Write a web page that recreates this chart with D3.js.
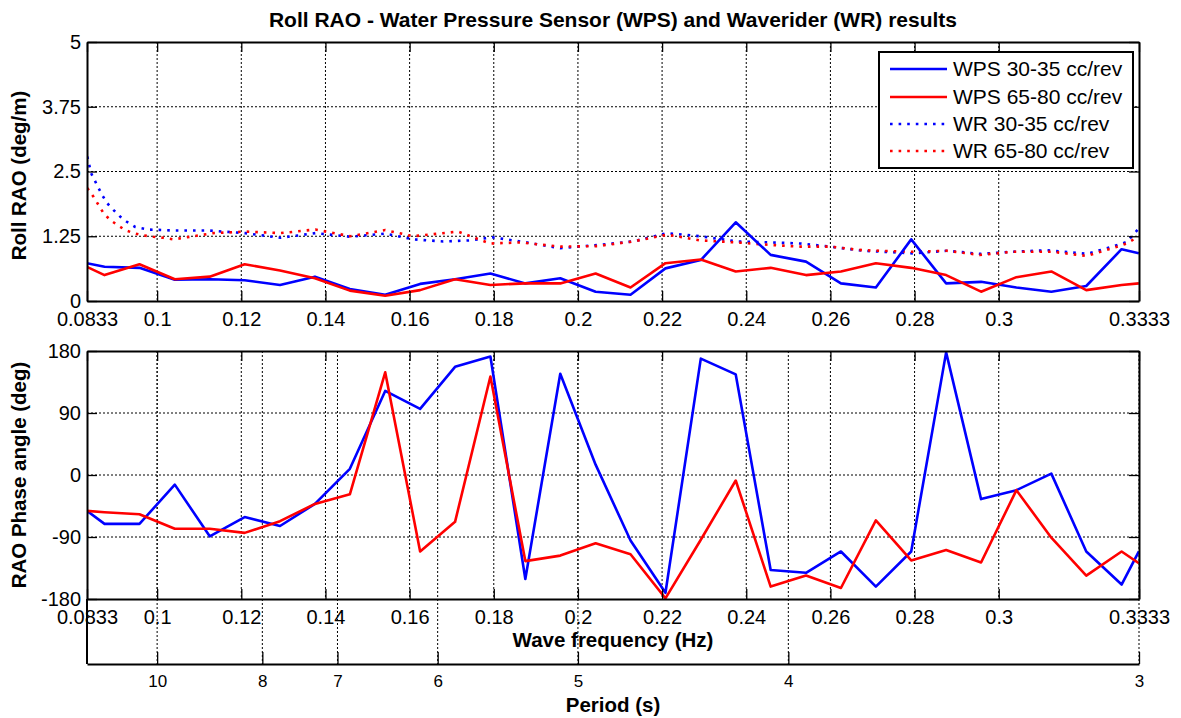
<!DOCTYPE html>
<html><head><meta charset="utf-8">
<script src="https://cdn.jsdelivr.net/npm/d3@7"></script>
<style>
body{margin:0;background:#fff;}
svg{display:block;font-family:"Liberation Sans",Arial,sans-serif;}
.grid line{stroke:#000;stroke-width:1;stroke-dasharray:2,2;}
.axis path{stroke:#000;stroke-width:2;}
.axis line{stroke:#000;stroke-width:1.3;}
.axis text{font-size:20px;fill:#000;font-family:"Liberation Sans",Arial,sans-serif;}
.paxis text{font-size:17px;}
</style></head><body><svg id="c" width="1181" height="718"></svg>
<script>
// ---------- data ----------
const freq = [0.0833,0.0875,0.0958,0.1042,0.1125,0.1208,0.1292,0.1375,0.1458,0.1542,0.1625,0.1708,0.1792,0.1875,0.1958,0.2042,0.2125,0.2208,0.2292,0.2375,0.2458,0.2542,0.2625,0.2708,0.2792,0.2875,0.2958,0.3042,0.3125,0.3208,0.3292,0.3333];
const wpsMag30 = [0.73,0.66,0.64,0.41,0.42,0.40,0.31,0.47,0.23,0.12,0.33,0.42,0.53,0.34,0.44,0.18,0.12,0.63,0.79,1.52,0.89,0.76,0.34,0.26,1.19,0.34,0.37,0.26,0.18,0.29,1.00,0.92];
const wpsMag65 = [0.66,0.50,0.71,0.42,0.47,0.71,0.59,0.44,0.20,0.10,0.21,0.42,0.31,0.34,0.34,0.53,0.26,0.73,0.80,0.57,0.64,0.50,0.57,0.73,0.64,0.50,0.18,0.46,0.57,0.21,0.31,0.34];
const wpsPhase30 = [-52,-71,-71,-14,-89,-61,-74,-42,9,122,96,157,172,-151,147,15,-95,-171,169,146,-138,-142,-111,-162,-111,178,-35,-22,2,-111,-159,-111];
const wpsPhase65 = [-52,-54,-57,-78,-78,-84,-67,-42,-28,149,-111,-68,143,-125,-117,-99,-115,-179,-94,-8,-162,-146,-164,-66,-124,-109,-127,-22,-91,-146,-111,-128];

const wrFreq30 = [0.0834,0.0843,0.0857,0.0869,0.0881,0.0896,0.0912,0.0928,0.0948,0.0979,0.1043,0.1124,0.1209,0.1293,0.1376,0.1459,0.1542,0.1608,0.1680,0.1744,0.1796,0.1863,0.1958,0.2046,0.2131,0.2212,0.2290,0.2378,0.2461,0.2528,0.2599,0.2677,0.2796,0.2877,0.2955,0.3034,0.3114,0.3209,0.3271,0.3304,0.3333];
const wrMag30 = [2.79,2.47,2.24,2.05,1.89,1.76,1.63,1.53,1.43,1.38,1.36,1.36,1.31,1.22,1.31,1.24,1.30,1.19,1.15,1.17,1.23,1.15,1.02,1.08,1.15,1.31,1.25,1.15,1.13,1.11,1.05,0.97,0.92,0.97,0.91,0.95,0.98,0.91,1.05,1.14,1.40];
const wrFreq65 = [0.0834,0.0849,0.0861,0.0873,0.0889,0.0905,0.0924,0.0944,0.0964,0.0991,0.1015,0.1039,0.1071,0.1133,0.1209,0.1293,0.1376,0.1459,0.1542,0.1608,0.1715,0.1791,0.1863,0.1958,0.2046,0.2131,0.2212,0.2290,0.2378,0.2461,0.2528,0.2599,0.2677,0.2796,0.2877,0.2955,0.3034,0.3128,0.3209,0.3271,0.3304,0.3333];
const wrMag65 = [2.18,2.01,1.85,1.69,1.56,1.47,1.37,1.31,1.27,1.24,1.22,1.19,1.23,1.31,1.34,1.31,1.38,1.25,1.37,1.25,1.34,1.11,1.13,1.05,1.06,1.15,1.28,1.17,1.13,1.08,1.05,1.05,0.98,0.95,0.97,0.89,0.95,0.95,0.87,1.02,1.11,1.25];

const freqTicks = [1/12,0.1,0.12,0.14,0.16,0.18,0.2,0.22,0.24,0.26,0.28,0.3,1/3];
const freqTickLabels = ["0.0833","0.1","0.12","0.14","0.16","0.18","0.2","0.22","0.24","0.26","0.28","0.3","0.3333"];
const magTicks = [0,1.25,2.5,3.75,5];
const phaseTicks = [-180,-90,0,90,180];
const periodTicks = [10,8,7,6,5,4,3];
const legendLabels = ["WPS 30-35 cc/rev","WPS 65-80 cc/rev","WR 30-35 cc/rev","WR 65-80 cc/rev"];
const titleText = "Roll RAO - Water Pressure Sensor (WPS) and Waverider (WR) results";

// ---------- layout ----------
const svg = d3.select("#c");
const L = 87, R = 1139;
const topY0 = 42, topY1 = 301;
const botY0 = 351, botY1 = 599;
const perY = 664;
const BLUE = "#0000ff", RED = "#ff0000";

const x = d3.scaleLinear().domain([1/12, 1/3]).range([L, R]);
const yTop = d3.scaleLinear().domain([0, 5]).range([topY1, topY0]);
const yBot = d3.scaleLinear().domain([-180, 180]).range([botY1, botY0]);

svg.append("rect").attr("width",1181).attr("height",718).attr("fill","#fff");

const defs = svg.append("defs");
defs.append("clipPath").attr("id","clipTop").append("rect").attr("x",L).attr("y",topY0).attr("width",R-L).attr("height",topY1-topY0);
defs.append("clipPath").attr("id","clipBot").append("rect").attr("x",L).attr("y",botY0).attr("width",R-L).attr("height",botY1-botY0);

const fmtFreq = d => freqTickLabels[freqTicks.indexOf(d)];
const innerFreq = freqTicks.slice(1, -1);

// ---------- grids ----------
const gTopGrid = svg.append("g").attr("class","grid");
gTopGrid.selectAll("line.v").data(innerFreq).join("line").attr("class","v")
  .attr("x1",d=>x(d)).attr("x2",d=>x(d)).attr("y1",topY0).attr("y2",topY1);
gTopGrid.selectAll("line.h").data(magTicks.slice(1,-1)).join("line").attr("class","h")
  .attr("x1",L).attr("x2",R).attr("y1",d=>yTop(d)).attr("y2",d=>yTop(d));

const gBotGrid = svg.append("g").attr("class","grid");
gBotGrid.selectAll("line.v").data(innerFreq).join("line").attr("class","v")
  .attr("x1",d=>x(d)).attr("x2",d=>x(d)).attr("y1",botY0).attr("y2",botY1);
gBotGrid.selectAll("line.h").data(phaseTicks.slice(1,-1)).join("line").attr("class","h")
  .attr("x1",L).attr("x2",R).attr("y1",d=>yBot(d)).attr("y2",d=>yBot(d));
gBotGrid.selectAll("line.p").data(periodTicks).join("line").attr("class","p")
  .attr("x1",d=>x(1/d)).attr("x2",d=>x(1/d)).attr("y1",botY0).attr("y2",perY);

// ---------- series ----------
const lineTop = d3.line().x(d=>x(d[0])).y(d=>yTop(d[1]));
const lineBot = d3.line().x(d=>x(d[0])).y(d=>yBot(d[1]));
const zip = (a,b) => a.map((v,i)=>[v,b[i]]);

const gTop = svg.append("g").attr("clip-path","url(#clipTop)");
gTop.append("path").datum(zip(wrFreq30,wrMag30)).attr("d",lineTop).attr("fill","none")
  .attr("stroke",BLUE).attr("stroke-width",2.6).attr("stroke-dasharray","2.6,6");
gTop.append("path").datum(zip(wrFreq65,wrMag65)).attr("d",lineTop).attr("fill","none")
  .attr("stroke",RED).attr("stroke-width",2.6).attr("stroke-dasharray","2.6,6");
gTop.append("path").datum(zip(freq,wpsMag30)).attr("d",lineTop).attr("fill","none")
  .attr("stroke",BLUE).attr("stroke-width",2.6).attr("stroke-linejoin","round");
gTop.append("path").datum(zip(freq,wpsMag65)).attr("d",lineTop).attr("fill","none")
  .attr("stroke",RED).attr("stroke-width",2.6).attr("stroke-linejoin","round");

const gBot = svg.append("g").attr("clip-path","url(#clipBot)");
gBot.append("path").datum(zip(freq,wpsPhase30)).attr("d",lineBot).attr("fill","none")
  .attr("stroke",BLUE).attr("stroke-width",2.6).attr("stroke-linejoin","round");
gBot.append("path").datum(zip(freq,wpsPhase65)).attr("d",lineBot).attr("fill","none")
  .attr("stroke",RED).attr("stroke-width",2.6).attr("stroke-linejoin","round");

// ---------- axes ----------
function boxAxes(y0, y1, yScale, yTicks) {
  svg.append("g").attr("class","axis").attr("transform",`translate(0,${y1})`)
    .call(d3.axisBottom(x).tickValues(freqTicks).tickFormat(fmtFreq).tickSizeInner(-10).tickSizeOuter(0).tickPadding(11));
  svg.append("g").attr("class","axis").attr("transform",`translate(0,${y0})`)
    .call(d3.axisTop(x).tickValues(freqTicks).tickFormat("").tickSizeInner(-10).tickSizeOuter(0));
  svg.append("g").attr("class","axis").attr("transform",`translate(${L},0)`)
    .call(d3.axisLeft(yScale).tickValues(yTicks).tickFormat(d=>String(d)).tickSizeInner(-10).tickSizeOuter(0).tickPadding(6));
  svg.append("g").attr("class","axis").attr("transform",`translate(${R},0)`)
    .call(d3.axisRight(yScale).tickValues(yTicks).tickFormat("").tickSizeInner(-10).tickSizeOuter(0));
}
boxAxes(topY0, topY1, yTop, magTicks);
boxAxes(botY0, botY1, yBot, phaseTicks);

// period axis (third axes)
svg.append("g").attr("class","axis paxis").attr("transform",`translate(0,${perY})`)
  .call(d3.axisBottom(x).tickValues(periodTicks.map(t=>1/t)).tickFormat(f=>String(Math.round(1/f)))
    .tickSizeInner(-12).tickSizeOuter(0).tickPadding(11));
svg.append("line").attr("x1",L).attr("x2",L).attr("y1",botY1).attr("y2",perY)
  .attr("stroke","#000").attr("stroke-width",2);

// ---------- texts ----------
svg.append("text").attr("x",(L+R)/2).attr("y",27).attr("text-anchor","middle")
  .attr("font-weight","bold").attr("font-size",21).text(titleText);
svg.append("text").attr("transform",`translate(26,${(topY0+topY1)/2+4}) rotate(-90)`).attr("text-anchor","middle")
  .attr("font-weight","bold").attr("font-size",20.5).text("Roll RAO (deg/m)");
svg.append("text").attr("transform",`translate(26,${(botY0+botY1)/2}) rotate(-90)`).attr("text-anchor","middle")
  .attr("font-weight","bold").attr("font-size",20.5).text("RAO Phase angle (deg)");
svg.append("text").attr("x",(L+R)/2).attr("y",647).attr("text-anchor","middle")
  .attr("font-weight","bold").attr("font-size",20.5).text("Wave frequency (Hz)");
svg.append("text").attr("x",(L+R)/2).attr("y",712).attr("text-anchor","middle")
  .attr("font-weight","bold").attr("font-size",20.5).text("Period (s)");

// ---------- legend ----------
const lg = svg.append("g");
lg.append("rect").attr("x",879).attr("y",52).attr("width",254).attr("height",116)
  .attr("fill","#fff").attr("stroke","#000").attr("stroke-width",2);
const legendStyle = [
  {c:BLUE, dash:null},{c:RED, dash:null},{c:BLUE, dash:"2.6,6"},{c:RED, dash:"2.6,6"}];
const rowY = [69,97,124,151];
legendLabels.forEach((lab,i)=>{
  lg.append("line").attr("x1",890).attr("x2",947).attr("y1",rowY[i]).attr("y2",rowY[i])
    .attr("stroke",legendStyle[i].c).attr("stroke-width",2.6).attr("stroke-dasharray",legendStyle[i].dash);
  lg.append("text").attr("x",953).attr("y",rowY[i]).attr("dy","0.35em").attr("font-size",21).text(lab);
});
</script></body></html>
